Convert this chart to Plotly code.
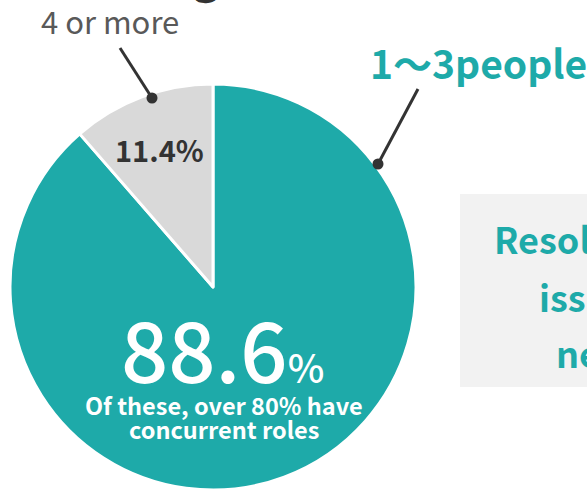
import plotly.graph_objects as go

# Share of organisations by number of people in charge
categories = ["1〜3people", "4 or more"]
shares = [88.6, 11.4]
slice_colors = ["#1eaaa9", "#d9d9d9"]

headline_note = ["Of these, over 80% have", "concurrent roles"]
side_lines = ["Resolving staffing", "issues is", "needed"]

W, H = 587, 490


def px(x):
    return x / W


def py(y):
    return 1 - y / H


fig = go.Figure(
    go.Pie(
        labels=categories,
        values=shares,
        marker=dict(colors=slice_colors, line=dict(color="white", width=3)),
        sort=False,
        direction="clockwise",
        rotation=0,
        textinfo="none",
        hoverinfo="skip",
        showlegend=False,
        domain=dict(x=[px(10), px(416)], y=[0, py(84)]),
    )
)

teal, dark, grey = "#1eaaa9", "#333333", "#595959"
jp = "Noto Sans CJK JP"

shapes = []
# callout box on the right
shapes.append(dict(type="rect", xref="paper", yref="paper",
                   x0=px(460), x1=px(620), y0=py(387), y1=py(194),
                   fillcolor="#f2f2f2", line=dict(width=0), layer="below"))

# leader lines with end dots
for (x0, y0, x1, y1) in [(120, 48, 152, 98), (418, 89, 378, 164)]:
    shapes.append(dict(type="line", xref="paper", yref="paper",
                       x0=px(x0), y0=py(y0), x1=px(x1), y1=py(y1),
                       line=dict(color=dark, width=3)))
    r = 5.5
    shapes.append(dict(type="circle", xref="paper", yref="paper",
                       x0=px(x1 - r), x1=px(x1 + r), y0=py(y1 + r), y1=py(y1 - r),
                       fillcolor=dark, line=dict(width=0)))

annotations = []
# title (sits mostly above the visible area)
annotations.append(dict(text="Staffing", x=px(221), y=py(7), xref="paper", yref="paper",
                        xanchor="right", yanchor="bottom", showarrow=False,
                        font=dict(family=jp, size=44, color=dark, weight="bold")))

annotations.append(dict(text=categories[1], x=px(39), y=py(20), xref="paper", yref="paper",
                        xanchor="left", yanchor="middle", showarrow=False,
                        font=dict(family=jp, size=31, color=grey)))
annotations.append(dict(text=categories[0], x=px(368), y=py(62), xref="paper", yref="paper",
                        xanchor="left", yanchor="middle", showarrow=False,
                        font=dict(family=jp, size=39, color=teal, weight="bold")))

annotations.append(dict(text=f"{shares[1]}%", x=px(159), y=py(149), xref="paper", yref="paper",
                        xanchor="center", yanchor="middle", showarrow=False,
                        font=dict(family=jp, size=29, color=dark, weight="bold")))

annotations.append(dict(text=f"{shares[0]}<span style='font-size:39px'>%</span>",
                        x=px(119), y=py(347), xref="paper", yref="paper",
                        xanchor="left", yanchor="middle", showarrow=False,
                        font=dict(family=jp, size=83, color="white", weight=500)))

for txt, y in zip(headline_note, [405, 429]):
    annotations.append(dict(text=txt, x=px(224), y=py(y),
                            xref="paper", yref="paper", xanchor="center", yanchor="middle",
                            showarrow=False,
                            font=dict(family=jp, size=23.5, color="white", weight="bold")))

for txt, x, y in zip(side_lines, [492, 537, 554], [238, 296, 352]):
    annotations.append(dict(text=txt, x=px(x), y=py(y), xref="paper", yref="paper",
                            xanchor="left", yanchor="middle", showarrow=False,
                            font=dict(family=jp, size=36, color=teal, weight="bold")))

fig.update_layout(
    width=W, height=H,
    margin=dict(l=0, r=0, t=0, b=0),
    paper_bgcolor="white", plot_bgcolor="white",
    shapes=shapes, annotations=annotations,
)

fig.write_html("out.html", config={"displayModeBar": False})
